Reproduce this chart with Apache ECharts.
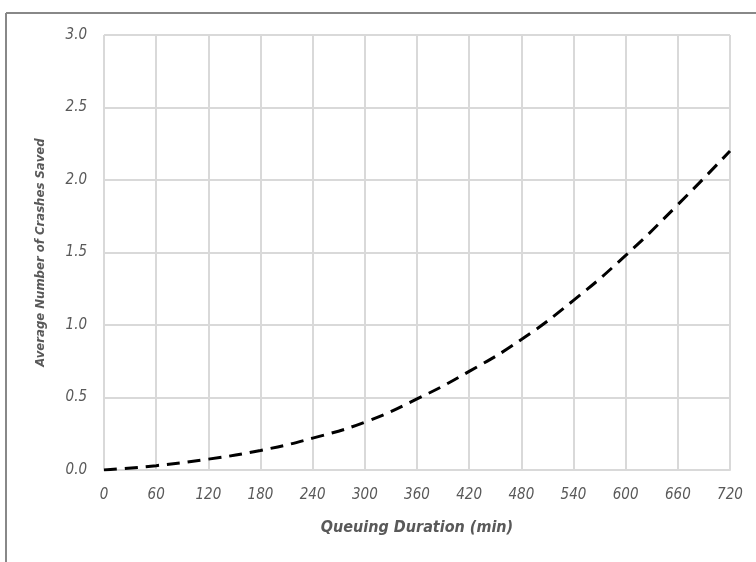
<!DOCTYPE html>
<html><head><meta charset="utf-8">
<script src="https://cdn.jsdelivr.net/npm/echarts@6/dist/echarts.min.js"></script>
<style>html,body{margin:0;padding:0;background:#fff}#c{width:756px;height:562px}</style>
</head><body><div id="c"></div>
<script>
const durations = [0, 60, 120, 180, 240, 300, 360, 420, 480, 540, 600, 660, 720];
const crashesSaved = [0, 0.03, 0.075, 0.135, 0.22, 0.33, 0.49, 0.68, 0.9, 1.17, 1.48, 1.83, 2.2];
const xTitle = 'Queuing Duration (min)';
const yTitle = 'Average Number of Crashes Saved';
const FONT = "'Liberation Sans Narrow','DejaVu Sans Condensed','Roboto Condensed',sans-serif";

const chart = echarts.init(document.getElementById('c'));
chart.setOption({
  animation: false,
  backgroundColor: '#fff',
  graphic: [
    {type: 'line', shape: {x1: 6, y1: 13, x2: 756, y2: 13}, style: {stroke: '#888', lineWidth: 2}},
    {type: 'line', shape: {x1: 6, y1: 13, x2: 6, y2: 562}, style: {stroke: '#888', lineWidth: 2}}
  ],
  grid: {left: 104, top: 35, right: 26, bottom: 92, containLabel: false},
  xAxis: {
    type: 'value', min: 0, max: 720, interval: 60,
    name: xTitle, nameLocation: 'middle', nameGap: 50,
    nameTextStyle: {fontFamily: FONT, fontSize: 16, fontWeight: 'bold', fontStyle: 'italic', color: '#595959'},
    axisLine: {show: true, lineStyle: {color: '#d9d9d9', width: 2}},
    axisTick: {show: false},
    axisLabel: {fontFamily: FONT, fontSize: 15, fontStyle: 'italic', color: '#595959', margin: 18},
    splitLine: {show: true, lineStyle: {color: '#d9d9d9', width: 2}}
  },
  yAxis: {
    type: 'value', min: 0, max: 3, interval: 0.5,
    name: yTitle, nameLocation: 'middle', nameGap: 57, nameRotate: 90,
    nameTextStyle: {fontFamily: FONT, fontSize: 13, fontWeight: 'bold', fontStyle: 'italic', color: '#595959'},
    axisLine: {show: false},
    axisTick: {show: false},
    axisLabel: {fontFamily: FONT, fontSize: 15, fontStyle: 'italic', color: '#595959', margin: 17,
      formatter: v => v.toFixed(1)},
    splitLine: {show: true, lineStyle: {color: '#d9d9d9', width: 2}}
  },
  series: [{
    type: 'line', data: durations.map((d, i) => [d, crashesSaved[i]]),
    smooth: true, showSymbol: false, symbol: 'none',
    lineStyle: {color: '#000', width: 3, type: [13, 8]}
  }]
});
</script></body></html>
